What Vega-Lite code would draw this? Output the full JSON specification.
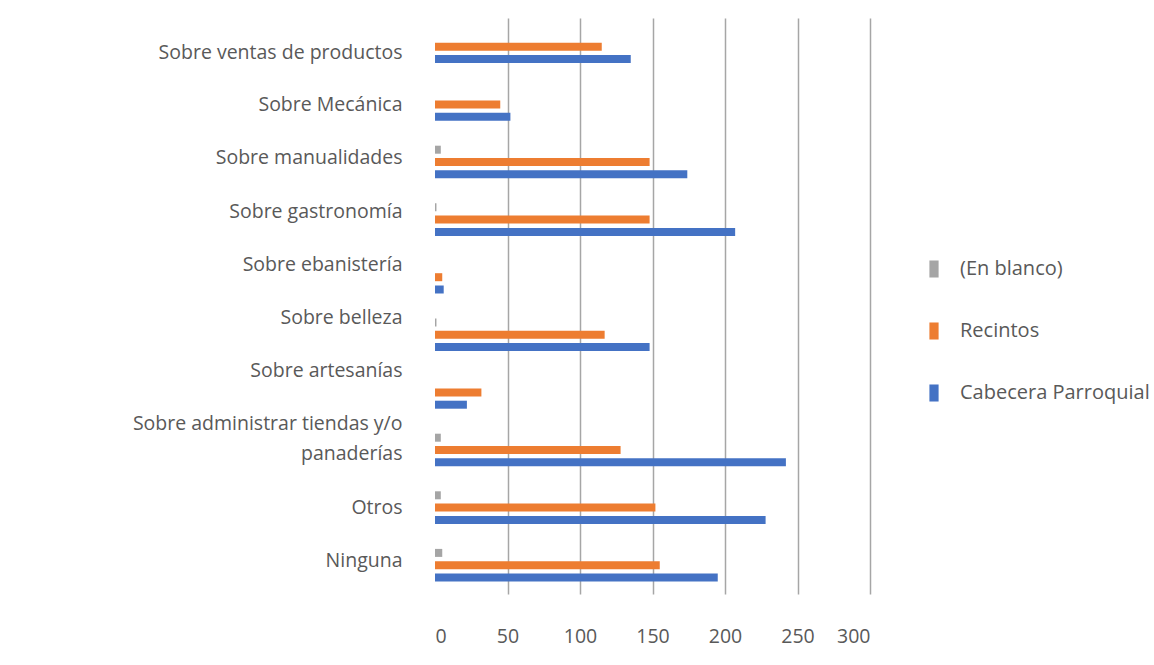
{
  "$schema": "https://vega.github.io/schema/vega-lite/v6.json",
  "autosize": "none",
  "width": 435,
  "height": 576,
  "padding": {"left": 435, "top": 18, "right": 284, "bottom": 71},
  "background": "white",
  "config": {"view": {"stroke": null}, "font": "Open Sans"},
  "data": {
    "values": [
      {"cat": "Sobre ventas de productos", "serie": "(En blanco)", "value": 0},
      {"cat": "Sobre ventas de productos", "serie": "Recintos", "value": 115},
      {"cat": "Sobre ventas de productos", "serie": "Cabecera Parroquial", "value": 135},
      {"cat": "Sobre Mecánica", "serie": "(En blanco)", "value": 0},
      {"cat": "Sobre Mecánica", "serie": "Recintos", "value": 45},
      {"cat": "Sobre Mecánica", "serie": "Cabecera Parroquial", "value": 52},
      {"cat": "Sobre manualidades", "serie": "(En blanco)", "value": 4},
      {"cat": "Sobre manualidades", "serie": "Recintos", "value": 148},
      {"cat": "Sobre manualidades", "serie": "Cabecera Parroquial", "value": 174},
      {"cat": "Sobre gastronomía", "serie": "(En blanco)", "value": 1},
      {"cat": "Sobre gastronomía", "serie": "Recintos", "value": 148},
      {"cat": "Sobre gastronomía", "serie": "Cabecera Parroquial", "value": 207},
      {"cat": "Sobre ebanistería", "serie": "(En blanco)", "value": 0},
      {"cat": "Sobre ebanistería", "serie": "Recintos", "value": 5},
      {"cat": "Sobre ebanistería", "serie": "Cabecera Parroquial", "value": 6},
      {"cat": "Sobre belleza", "serie": "(En blanco)", "value": 1},
      {"cat": "Sobre belleza", "serie": "Recintos", "value": 117},
      {"cat": "Sobre belleza", "serie": "Cabecera Parroquial", "value": 148},
      {"cat": "Sobre artesanías", "serie": "(En blanco)", "value": 0},
      {"cat": "Sobre artesanías", "serie": "Recintos", "value": 32},
      {"cat": "Sobre artesanías", "serie": "Cabecera Parroquial", "value": 22},
      {"cat": "Sobre administrar tiendas y/o panaderías", "serie": "(En blanco)", "value": 4},
      {"cat": "Sobre administrar tiendas y/o panaderías", "serie": "Recintos", "value": 128},
      {"cat": "Sobre administrar tiendas y/o panaderías", "serie": "Cabecera Parroquial", "value": 242},
      {"cat": "Otros", "serie": "(En blanco)", "value": 4},
      {"cat": "Otros", "serie": "Recintos", "value": 152},
      {"cat": "Otros", "serie": "Cabecera Parroquial", "value": 228},
      {"cat": "Ninguna", "serie": "(En blanco)", "value": 5},
      {"cat": "Ninguna", "serie": "Recintos", "value": 155},
      {"cat": "Ninguna", "serie": "Cabecera Parroquial", "value": 195}
    ]
  },
  "mark": {"type": "bar"},
  "encoding": {
    "y": {
      "field": "cat",
      "type": "nominal",
      "sort": ["Sobre ventas de productos", "Sobre Mecánica", "Sobre manualidades", "Sobre gastronomía", "Sobre ebanistería", "Sobre belleza", "Sobre artesanías", "Sobre administrar tiendas y/o panaderías", "Otros", "Ninguna"],
      "scale": {"paddingInner": 0.434, "paddingOuter": 0.217},
      "axis": {
        "title": null,
        "domain": false,
        "ticks": false,
        "labelPadding": 33,
        "labelFontSize": 19.5,
        "labelColor": "#595959",
        "labelLimit": 0,
        "labelLineHeight": 30,
        "labelOffset": {
          "condition": [
            {"test": "datum.value == 'Sobre ventas de productos'", "value": 6},
            {"test": "datum.value == 'Sobre Mecánica'", "value": 1},
            {"test": "datum.value == 'Sobre manualidades'", "value": -4},
            {"test": "datum.value == 'Sobre gastronomía'", "value": -8},
            {"test": "datum.value == 'Sobre ebanistería'", "value": -12},
            {"test": "datum.value == 'Sobre belleza'", "value": -17},
            {"test": "datum.value == 'Sobre artesanías'", "value": -21},
            {"test": "datum.value == 'Sobre administrar tiendas y/o panaderías'", "value": -26},
            {"test": "datum.value == 'Ninguna'", "value": -4}
          ],
          "value": 0
        },
        "labelExpr": "datum.value == 'Sobre administrar tiendas y/o panaderías' ? ['Sobre administrar tiendas y/o', 'panaderías'] : datum.label"
      }
    },
    "yOffset": {
      "field": "serie",
      "type": "nominal",
      "sort": ["(En blanco)", "Recintos", "Cabecera Parroquial"],
      "scale": {"paddingInner": 0.35, "paddingOuter": 0}
    },
    "x": {
      "field": "value",
      "type": "quantitative",
      "scale": {"domain": [0, 300]},
      "axis": {
        "title": null,
        "values": [0, 50, 100, 150, 200, 250, 300],
        "domain": false,
        "ticks": false,
        "labelPadding": 33,
        "labelFontSize": 19.5,
        "labelColor": "#595959",
        "gridColor": "#a6a6a6",
        "gridWidth": 1.5,
        "gridOpacity": {"condition": {"test": "datum.value === 0", "value": 0}, "value": 1}
      }
    },
    "color": {
      "field": "serie",
      "type": "nominal",
      "scale": {
        "domain": ["(En blanco)", "Recintos", "Cabecera Parroquial"],
        "range": ["#A5A5A5", "#ED7D31", "#4472C4"]
      },
      "legend": {
        "title": null,
        "orient": "none",
        "legendX": 489,
        "legendY": 241,
        "symbolType": "M-0.54,-1L0.54,-1L0.54,1L-0.54,1Z",
        "symbolSize": 290,
        "symbolStrokeWidth": 0,
        "labelFontSize": 20,
        "labelColor": "#595959",
        "labelOffset": 16,
        "rowPadding": 42,
        "labelLimit": 0
      }
    }
  }
}
